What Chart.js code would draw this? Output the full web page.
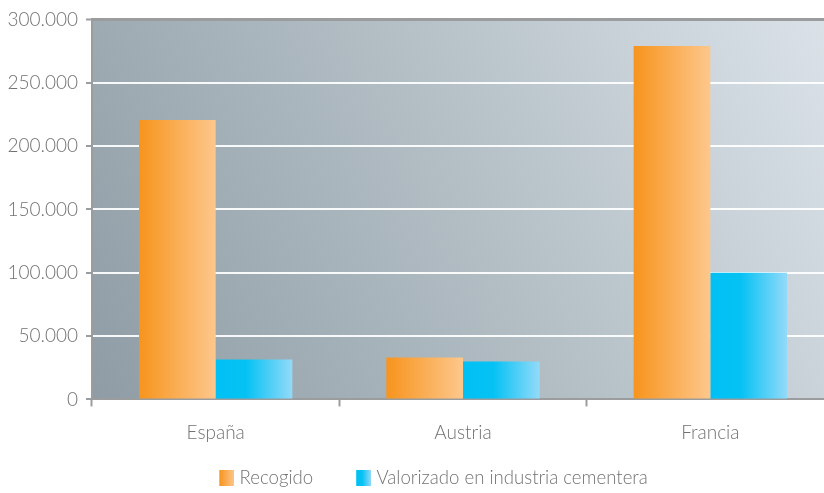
<!DOCTYPE html>
<html>
<head>
<meta charset="utf-8">
<script src="https://cdn.jsdelivr.net/npm/chart.js@4.4.1/dist/chart.umd.min.js"></script>
<style>
  html, body { margin: 0; padding: 0; background: #fff; overflow: hidden; width: 824px; height: 493px; }
  #wrap { position: absolute; left: 0; top: 0; width: 874px; height: 497px; }
</style>
</head>
<body>
<div id="wrap"><canvas id="c" width="874" height="497"></canvas></div>
<script>
// Países y series
const paises = ['España', 'Austria', 'Francia'];
const recogido = [220500, 33000, 279000];
const valorizado = [31500, 30000, 100000];
const nombresSeries = ['Recogido', 'Valorizado en industria cementera'];
const yTicks = [0, 50000, 100000, 150000, 200000, 250000, 300000];

const FONT = "'Lato Light', Lato, 'Open Sans', sans-serif";
const TEXT = '#727272';
const AXIS = '#9a9c9e';
const CAT_PCT = 0.62;

function miles(v) {
  return String(v).replace(/\B(?=(\d{3})+(?!\d))/g, '.');
}

// Degradados horizontales de cada serie
const stopsSerie = [
  [[0, '#f7941d'], [1, '#fdc78c']],
  [[0, '#00c0f4'], [0.4, '#06c2f4'], [1, '#93daf9']]
];

function fillGrad(g, stops) {
  stops.forEach(s => g.addColorStop(s[0], s[1]));
  return g;
}

function barFill(ctx) {
  const chart = ctx.chart;
  const x = chart.scales.x;
  const ds = ctx.datasetIndex;
  if (!chart.chartArea || !x || !x.width || ctx.type !== 'data') {
    return stopsSerie[ds][0][1];
  }
  const center = x.getPixelForValue(ctx.dataIndex);
  const bw = (x.width / paises.length) * CAT_PCT / 2;
  const left = ds === 0 ? center - bw : center;
  return fillGrad(chart.ctx.createLinearGradient(left, 0, left + bw, 0), stopsSerie[ds]);
}

// Muestras de la leyenda: cuadro de 15x16 con margen transparente a la izquierda
const SW = 15, SH = 16, MARGEN = 37;
function muestra(ds) {
  const c = document.createElement('canvas');
  c.width = SW + MARGEN; c.height = SH;
  const g = c.getContext('2d');
  g.fillStyle = fillGrad(g.createLinearGradient(MARGEN, 0, MARGEN + SW, 0), stopsSerie[ds]);
  g.fillRect(MARGEN, 0, SW, SH);
  return c;
}
const muestras = [muestra(0), muestra(1)];

// Fondo del área de trazado
const fondo = {
  id: 'fondo',
  beforeDraw(chart) {
    const a = chart.chartArea;
    if (!a) return;
    const c = chart.ctx;
    const g = c.createLinearGradient(a.left, a.bottom, a.right, a.top);
    g.addColorStop(0, '#8f9ca5');
    g.addColorStop(0.5, '#b2bec4');
    g.addColorStop(1, '#dbe3e9');
    c.save();
    c.fillStyle = g;
    c.fillRect(a.left, a.top, a.right - a.left, a.bottom - a.top);
    c.restore();
  }
};

new Chart(document.getElementById('c'), {
  type: 'bar',
  data: {
    labels: paises,
    datasets: [
      { label: nombresSeries[0], data: recogido, backgroundColor: barFill, borderWidth: 0 },
      { label: nombresSeries[1], data: valorizado, backgroundColor: barFill, borderWidth: 0 }
    ]
  },
  plugins: [fondo],
  options: {
    responsive: false,
    animation: false,
    events: [],
    layout: { padding: { top: 19, right: 40, left: 0, bottom: 0 } },
    datasets: { bar: { categoryPercentage: CAT_PCT, barPercentage: 1.0 } },
    scales: {
      x: {
        grid: { drawOnChartArea: false, drawTicks: true, tickLength: 7, tickColor: AXIS, tickWidth: 2, offset: true },
        border: { color: AXIS, width: 2 },
        ticks: { color: TEXT, font: { family: FONT, size: 19, weight: 300 }, padding: 15 },
        afterFit(s) { s.height = 59; }
      },
      y: {
        min: 0,
        max: 300000,
        afterBuildTicks(s) { s.ticks = yTicks.map(v => ({ value: v })); },
        grid: {
          color: c => (c.tick && c.tick.value === 300000) ? AXIS : 'rgba(255,255,255,0.92)',
          lineWidth: c => (c.tick && c.tick.value === 300000) ? 3 : 2,
          tickColor: AXIS,
          tickLength: 6,
          tickWidth: 2
        },
        border: { color: AXIS, width: 2 },
        ticks: {
          color: TEXT,
          font: { family: FONT, size: 19, weight: 300 },
          padding: 8,
          callback: v => miles(v)
        },
        afterFit(s) { s.width = 92; }
      }
    },
    plugins: {
      tooltip: { enabled: false },
      legend: {
        position: 'bottom',
        labels: {
          color: TEXT,
          font: { family: FONT, size: 18.6, weight: 300 },
          usePointStyle: true,
          pointStyleWidth: SW + MARGEN - 8,
          boxHeight: SH,
          padding: 10,
          generateLabels(chart) {
            return chart.data.datasets.map((d, i) => ({
              text: d.label,
              pointStyle: muestras[i],
              fillStyle: stopsSerie[i][0][1],
              strokeStyle: 'transparent',
              lineWidth: 0,
              fontColor: TEXT,
              datasetIndex: i,
              hidden: false
            }));
          }
        }
      }
    }
  }
});
</script>
</body>
</html>
